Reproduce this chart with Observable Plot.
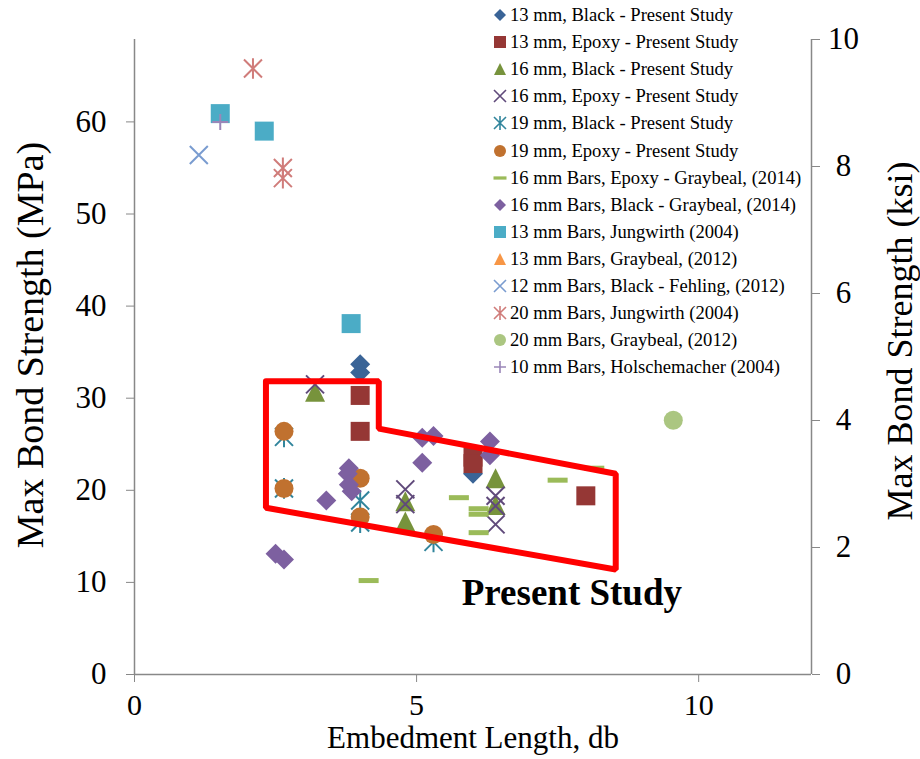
<!DOCTYPE html>
<html>
<head>
<meta charset="utf-8">
<script src="https://cdn.jsdelivr.net/npm/d3@7"></script>
<script src="https://cdn.jsdelivr.net/npm/@observablehq/plot@0.6"></script>
<style>
  body { margin: 0; background: #fff; }
  #chart { position: relative; width: 920px; height: 759px; }
  #legend { position: absolute; left: 490px; top: 0; font-family: "Liberation Serif", "Times New Roman", serif; font-size: 18.6px; color: #000; }
  #legend .row { position: absolute; left: 0; height: 20px; display: flex; align-items: center; white-space: nowrap; }
  #legend svg { width: 20px; height: 20px; margin-right: 0px; }
</style>
</head>
<body>
<div id="chart"><div id="legend"></div></div>
<script>
// 1 ksi in MPa, used for the secondary axis
const KSI = 6.894757;

// ---- Present study ----
const blk13X = [4.0, 4.0, 6.0];
const blk13Y = [33.7, 32.8, 21.8];
const epx13X = [4.0, 4.0, 6.0, 6.0, 8.0];
const epx13Y = [30.3, 26.4, 23.6, 22.9, 19.4];
const blk16X = [3.2, 4.8, 4.8, 6.4, 6.4];
const blk16Y = [30.7, 18.8, 16.6, 21.3, 18.4];
const epx16X = [3.2, 4.8, 4.8, 6.4, 6.4, 6.4];
const epx16Y = [31.5, 20.1, 18.5, 19.4, 18.3, 16.3];
const blk19X = [2.65, 2.65, 4.0, 4.0, 5.3];
const blk19Y = [25.8, 20.2, 18.9, 16.5, 14.4];
const epx19X = [2.65, 2.65, 4.0, 4.0, 5.3];
const epx19Y = [26.4, 20.2, 21.3, 17.1, 15.2];

// ---- Literature ----
const gbEpx16X = [4.15, 5.75, 6.1, 6.1, 6.1, 7.5, 8.15];
const gbEpx16Y = [10.2, 19.2, 18.0, 17.4, 15.4, 21.1, 22.4];
const gbBlk16X = [2.5, 2.65, 3.4, 3.8, 3.78, 3.8, 3.85, 5.1, 5.3, 5.1, 6.3, 6.3];
const gbBlk16Y = [13.1, 12.5, 18.9, 22.4, 21.8, 20.6, 19.9, 25.7, 25.9, 23.0, 25.3, 23.8];
const jw13X = [1.52, 2.3, 3.84];
const jw13Y = [60.9, 59.0, 38.1];
const gb13X = [];
const gb13Y = [];
const fh12X = [1.14];
const fh12Y = [56.4];
const jw20X = [2.1, 2.63, 2.63];
const jw20Y = [65.8, 55.0, 53.9];
const gb20X = [9.55];
const gb20Y = [27.6];
const hs10X = [1.52];
const hs10Y = [60.0];

// outline around the present-study cloud
const frameX = [2.33, 4.33, 4.33, 8.53, 8.53, 2.33, 2.33];
const frameY = [31.85, 31.85, 26.7, 21.8, 11.4, 18.1, 31.85];
const noteText = ["Present Study"];
const noteX = [5.8];
const noteY = [8.8];

// axis ticks
const xTicks = [0, 5, 10];
const mpaTicks = [0, 10, 20, 30, 40, 50, 60];
const ksiTicks = [0, 2, 4, 6, 8, 10];

// marker shapes; r = half extent
const rOf = (size) => Math.sqrt(size / Math.PI);
const diamondS = { draw(c, s) { const r = rOf(s); c.moveTo(0, -r); c.lineTo(r, 0); c.lineTo(0, r); c.lineTo(-r, 0); c.closePath(); } };
const squareS = { draw(c, s) { const r = rOf(s); c.rect(-r, -r, 2 * r, 2 * r); } };
const triangleS = { draw(c, s) { const r = rOf(s); c.moveTo(0, -r); c.lineTo(r, r); c.lineTo(-r, r); c.closePath(); } };
const circleS = { draw(c, s) { const r = rOf(s); c.moveTo(r, 0); c.arc(0, 0, r, 0, 2 * Math.PI); } };
const timesS = { draw(c, s) { const r = rOf(s); c.moveTo(-r, -r); c.lineTo(r, r); c.moveTo(-r, r); c.lineTo(r, -r); } };
const starS = { draw(c, s) { const r = rOf(s); c.moveTo(-r, -r); c.lineTo(r, r); c.moveTo(-r, r); c.lineTo(r, -r); c.moveTo(0, -r * 1.15); c.lineTo(0, r * 1.15); } };
const dashS = { draw(c, s) { const r = rOf(s); const h = r * 0.5; c.rect(-r, -h / 2, 2 * r, h); } };
const plusS = { draw(c, s) { const r = rOf(s); c.moveTo(-r, 0); c.lineTo(r, 0); c.moveTo(0, -r); c.lineTo(0, r); } };

const series = [
  { name: "13 mm, Black - Present Study", xs: blk13X, ys: blk13Y, sym: diamondS, color: "#3A6497", filled: true, r: 10 },
  { name: "13 mm, Epoxy - Present Study", xs: epx13X, ys: epx13Y, sym: squareS, color: "#953735", filled: true, r: 9.5 },
  { name: "16 mm, Black - Present Study", xs: blk16X, ys: blk16Y, sym: triangleS, color: "#77933C", filled: true, r: 10 },
  { name: "16 mm, Epoxy - Present Study", xs: epx16X, ys: epx16Y, sym: timesS, color: "#604A7B", filled: false, r: 9 },
  { name: "19 mm, Black - Present Study", xs: blk19X, ys: blk19Y, sym: starS, color: "#31859C", filled: false, r: 9 },
  { name: "19 mm, Epoxy - Present Study", xs: epx19X, ys: epx19Y, sym: circleS, color: "#C0712F", filled: true, r: 9.5 },
  { name: "16 mm Bars, Epoxy - Graybeal, (2014)", xs: gbEpx16X, ys: gbEpx16Y, sym: dashS, color: "#9BBB59", filled: true, r: 10 },
  { name: "16 mm Bars, Black - Graybeal, (2014)", xs: gbBlk16X, ys: gbBlk16Y, sym: diamondS, color: "#7D60A0", filled: true, r: 10 },
  { name: "13 mm Bars, Jungwirth (2004)", xs: jw13X, ys: jw13Y, sym: squareS, color: "#4BACC6", filled: true, r: 9.5 },
  { name: "13 mm Bars, Graybeal, (2012)", xs: gb13X, ys: gb13Y, sym: triangleS, color: "#F79646", filled: true, r: 10 },
  { name: "12 mm Bars, Black - Fehling, (2012)", xs: fh12X, ys: fh12Y, sym: timesS, color: "#7A9CD0", filled: false, r: 9 },
  { name: "20 mm Bars, Jungwirth (2004)", xs: jw20X, ys: jw20Y, sym: starS, color: "#D07C7A", filled: false, r: 9 },
  { name: "20 mm Bars, Graybeal, (2012)", xs: gb20X, ys: gb20Y, sym: circleS, color: "#ABC681", filled: true, r: 9.5 },
  { name: "10 mm Bars, Holschemacher (2004)", xs: hs10X, ys: hs10Y, sym: plusS, color: "#9A86B8", filled: false, r: 8 }
];

const axisGray = "#888888";
const yTop = 10 * KSI;

const dotMarks = series.map(s => Plot.dot(s.xs.map((x, i) => ({ x, y: s.ys[i] })), {
  x: "x", y: "y", symbol: s.sym, r: s.r,
  fill: s.filled ? s.color : "none",
  stroke: s.filled ? "none" : s.color,
  strokeWidth: s.filled ? 0 : 2
}));

const chart = Plot.plot({
  width: 920,
  height: 759,
  marginLeft: 134,
  marginRight: 109,
  marginTop: 39,
  marginBottom: 85,
  style: { fontFamily: '"Liberation Serif", "Times New Roman", serif', background: "#fff", color: "#000" },
  x: { domain: [0, 12] },
  y: { domain: [0, yTop] },
  marks: [
    Plot.ruleX([0, 12], { y1: 0, y2: yTop, stroke: axisGray, strokeWidth: 1.5 }),
    Plot.ruleY([0], { stroke: axisGray, strokeWidth: 1.5 }),
    Plot.axisX({ ticks: xTicks, tickSize: 8, tickPadding: 11, stroke: axisGray, fill: "#000", fontSize: 30, label: null }),
    Plot.axisY({ anchor: "left", ticks: mpaTicks, tickSize: 8, tickPadding: 20, stroke: axisGray, fill: "#000", fontSize: 31, label: null }),
    Plot.axisY({ anchor: "right", ticks: ksiTicks.map(k => k * KSI), tickFormat: d => String(Math.round(d / KSI)), tickSize: 8, tickPadding: 24, textAnchor: "middle", stroke: axisGray, fill: "#000", fontSize: 31, label: null }),
    Plot.text(["Max Bond Strength (MPa)"], { text: d => d, frameAnchor: "left", textAnchor: "middle", rotate: -90, dx: -104, dy: -12, fontSize: 38, fill: "#000" }),
    Plot.text(["Max Bond Strength (ksi)"], { text: d => d, frameAnchor: "right", textAnchor: "middle", rotate: -90, dx: 89, dy: -16, fontSize: 36, fill: "#000" }),
    Plot.text(["Embedment Length, db"], { text: d => d, frameAnchor: "bottom", dy: 73, fontSize: 31, fill: "#000" }),
    ...dotMarks,
    Plot.line(frameX.map((x, i) => ({ x, y: frameY[i] })), { x: "x", y: "y", stroke: "#FF0000", strokeWidth: 6, strokeLinejoin: "miter", curve: "linear" }),
    Plot.text(noteText, { x: (d, i) => noteX[i], y: (d, i) => noteY[i], text: d => d, textAnchor: "start", fontSize: 37, fontWeight: "bold", fill: "#000" })
  ]
});

document.getElementById("chart").insertBefore(chart, document.getElementById("legend"));

// legend rows
const legend = d3.select("#legend");
series.forEach((s, i) => {
  const row = legend.append("div").attr("class", "row").style("top", (5 + i * 27.1) + "px");
  const svg = row.append("svg").attr("viewBox", "-10 -10 20 20");
  const small = s.sym === dashS ? 6.5 : 6;
  svg.append("path")
    .attr("d", d3.symbol(s.sym, small * small * Math.PI)())
    .attr("fill", s.filled ? s.color : "none")
    .attr("stroke", s.filled ? "none" : s.color)
    .attr("stroke-width", s.filled ? 0 : 1.6);
  row.append("span").text(s.name);
});
</script>
</body>
</html>
